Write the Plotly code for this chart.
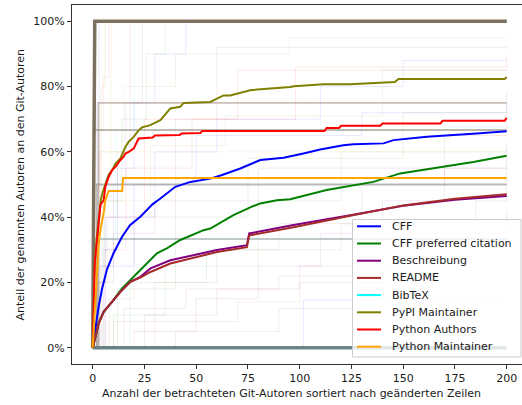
import plotly.graph_objects as go

# ---------------- data ----------------
series_names = ["CFF", "CFF preferred citation", "Beschreibung", "README", "BibTeX",
                "PyPI Maintainer", "Python Authors", "Python Maintainer"]
series_colors = ["#0000FF", "#008000", "#800080", "#A52A2A", "#00FFFF",
                 "#808000", "#FF0000", "#FFA500"]

cff_x = [0, 1, 2, 3, 4.5, 6.9, 10.1, 14.2, 18, 23, 29, 32.7, 39.9, 47.2, 56.8, 62.5, 71.3,
         81, 92.2, 101.8, 109.9, 121.1, 126, 140.5, 145.3, 161.4, 175.9, 185.5, 200]
cff_y = [0, 5, 9, 13, 18, 24, 29, 34, 37.5, 40.1, 44, 45.7, 49.3, 50.8, 51.8, 52.9, 54.9,
         57.5, 58.2, 59.5, 60.7, 62, 62.3, 62.6, 63.6, 64.6, 65.1, 65.6, 66.3]

pref_x = [0, 1.3, 2.9, 5.3, 9.4, 14.2, 18, 24.6, 31, 36, 42.3, 53.6, 56.8, 64.9, 68, 76.9,
          81, 89, 95.4, 113, 135.6, 148.5, 169.4, 183.9, 200]
pref_y = [0, 3.4, 7.5, 11, 14.1, 18.2, 20.5, 24.8, 28.9, 30.5, 33, 36, 36.5, 39.6, 40.6, 43.2,
          44.2, 45.2, 45.5, 48.3, 50.8, 53.4, 55.4, 56.9, 58.8]

besch_x = [0, 1.3, 2.9, 5.3, 9.4, 13.4, 18.2, 23, 27.9, 37.5, 60, 74.5, 75.6, 97, 124.4,
           150, 175, 200]
besch_y = [0, 3.4, 7.5, 11, 14.1, 17.1, 20.2, 21.7, 24.3, 26.8, 29.9, 31.4, 35, 37.6, 40.6,
           43.5, 45.3, 46.5]

readme_x = [0, 1.3, 2.9, 5.3, 9.4, 13.4, 18.2, 23, 27.9, 37.5, 60, 74.5, 75.6, 97, 124.4,
            150, 175, 200]
readme_y = [0, 3.4, 7.5, 11, 14.1, 17.1, 20.2, 21.5, 23.2, 25.8, 29.3, 30.8, 34.4, 36.9, 40.4,
            43.6, 45.6, 47]

bibtex_x = [0, 1, 200]
bibtex_y = [0, 100, 100]

pypi_x = [0, 1, 2, 3, 4, 5, 6.1, 7.7, 9.4, 11, 13.4, 15.8, 17.4, 19.8, 22.2, 23.8, 27.8,
          32.7, 37.5, 42.3, 43.9, 53.6, 56.8, 63.2, 66.4, 76.1, 81, 95.4, 97.2, 111.5, 124.4,
          140.4, 146, 147.7, 199, 200]
pypi_y = [0, 27, 34, 41, 45.5, 48, 50, 53, 54.4, 56.4, 58, 61.5, 63.1, 64.6, 66.6, 67.5, 68.2,
          69.7, 73.3, 73.8, 75, 75.3, 75.3, 77.3, 77.3, 78.9, 79.1, 79.9, 80.1, 80.7, 80.7,
          81.1, 81.4, 82.3, 82.3, 83]

pyauth_x = [0, 1, 2.1, 2.9, 3.7, 5.3, 6.1, 7.7, 9.4, 11, 13.4, 15, 15.8, 17.4, 19.8, 21.4,
            22.2, 29, 30, 42, 43, 52, 53, 112, 113, 119, 120, 139, 140, 168, 169, 199, 200]
pyauth_y = [0, 26, 33, 39.1, 43.7, 45.2, 49.3, 52.3, 54.4, 55.4, 57.5, 58.5, 59.5, 60, 61,
            63.1, 64.1, 64.4, 65, 65.2, 65.6, 65.8, 66.4, 66.4, 67.3, 67.3, 68, 68, 68.7,
            68.7, 69.5, 69.5, 70.4]

pymaint_x = [0, 1, 2, 3, 4, 5, 5.5, 6, 7.7, 14.2, 14.7, 200]
pymaint_y = [0, 12, 24, 33, 37, 40, 42, 45, 48, 48, 52, 52]

series_x = [cff_x, pref_x, besch_x, readme_x, bibtex_x, pypi_x, pyauth_x, pymaint_x]
series_y = [cff_y, pref_y, besch_y, readme_y, bibtex_y, pypi_y, pyauth_y, pymaint_y]

# individual projects (faint background lines), category index into series_names
bg_cat = [0, 5, 6, 3, 2, 1, 7, 4, 0, 3, 2, 3, 0, 1, 5, 6, 3, 2, 0, 7, 3, 1, 2, 0, 6, 5, 1, 3]
bg_x = [
    [0, 1, 2, 3, 200],
    [0, 2, 4, 6, 200],
    [0, 1, 3, 5, 8, 200],
    [0, 3, 7, 12, 18, 200],
    [0, 4, 10, 16, 24, 200],
    [0, 2, 6, 14, 26, 35, 200],
    [0, 1, 9, 200],
    [0, 3, 11, 20, 200],
    [0, 5, 12, 20, 30, 45, 200],
    [0, 8, 20, 40, 60, 200],
    [0, 20, 50, 80, 110, 140, 170, 200],
    [0, 10, 30, 60, 90, 130, 170, 200],
    [0, 1, 101.8, 200],
    [0, 10, 35, 80, 120, 200],
    [0, 3, 15, 40, 95, 200],
    [0, 2, 25, 70, 200],
    [0, 15, 45, 90, 150, 200],
    [0, 25, 60, 100, 160, 200],
    [0, 6, 30, 60, 110, 150, 200],
    [0, 4, 200],
    [0, 40, 90, 130, 200],
    [0, 18, 55, 120, 200],
    [0, 2, 10, 30, 80, 200],
    [0, 3, 20, 50, 130, 200],
    [0, 6, 16, 48, 98, 200],
    [0, 5, 28, 64, 140, 200],
    [0, 12, 40, 75, 150, 200],
    [0, 30, 70, 100, 140, 185, 200],
]
bg_y = [
    [0, 50, 75, 100, 100],
    [0, 40, 80, 100, 100],
    [0, 33, 66.7, 83, 100, 100],
    [0, 20, 40, 60, 100, 100],
    [0, 25, 50, 75, 100, 100],
    [0, 20, 45, 70, 90, 100, 100],
    [0, 50, 100, 100],
    [0, 33, 66.7, 100, 100],
    [0, 30, 55, 75, 90, 100, 100],
    [0, 15, 40, 70, 92, 92],
    [0, 5, 15, 25, 35, 45, 55, 63],
    [0, 8, 20, 30, 38, 50, 65, 75],
    [0, 0, 14.6, 14.6],
    [0, 10, 25, 45, 60, 60],
    [0, 60, 80, 90, 95, 95],
    [0, 40, 70, 85, 85],
    [0, 12, 18, 22, 27, 30],
    [0, 10, 18, 25, 35, 40],
    [0, 40, 60, 70, 80, 88, 88],
    [0, 60, 60],
    [0, 5, 12, 20, 20],
    [0, 20, 30, 38, 42],
    [0, 20, 35, 45, 55, 55],
    [0, 25, 50, 65, 72, 78],
    [0, 30, 55, 70, 86, 90],
    [0, 45, 62, 71, 85, 85],
    [0, 18, 40, 58, 72, 72],
    [0, 8, 14, 20, 28, 45, 55],
]

# projects that stay at a constant share (overlapping, hence darker)
level_y = [75, 66.7, 50, 33.3]
level_start = [2.8, 0.5, 2, 0.5]
full_x = [0, 1, 200]
full_y = [0, 100, 100]
zero_x = [0, 200]
zero_y = [0, 0]

x_ticks = [0, 25, 50, 75, 100, 125, 150, 175, 200]
y_ticks = [0, 20, 40, 60, 80, 100]
y_tick_text = ["0%", "20%", "40%", "60%", "80%", "100%"]
x_label = "Anzahl der betrachteten Git-Autoren sortiert nach geänderten Zeilen"
y_label = "Anteil der genannten Autoren an den Git-Autoren"

# ---------------- figure ----------------
FONT = "DejaVu Sans"
TXT = "#1a1a1a"


def rgba(hexcol, a):
    h = hexcol.lstrip("#")
    return "rgba(%d,%d,%d,%.3f)" % (int(h[0:2], 16), int(h[2:4], 16), int(h[4:6], 16), a)


fig = go.Figure()

for cat, xs, ys in zip(bg_cat, bg_x, bg_y):
    fig.add_trace(go.Scatter(x=xs, y=ys, mode="lines", line_shape="hv",
                             line=dict(color=rgba(series_colors[cat], 0.09), width=1),
                             showlegend=False, hoverinfo="skip"))

level_colors = ["rgba(150,125,115,0.5)", "rgba(135,130,115,0.55)",
                "rgba(130,130,130,0.55)", "rgba(130,145,150,0.5)"]
for lv, st, col in zip(level_y, level_start, level_colors):
    fig.add_trace(go.Scatter(x=[0, st, 200], y=[0, lv, lv], mode="lines", line_shape="hv",
                             line=dict(color=col, width=1.8),
                             showlegend=False, hoverinfo="skip"))

fig.add_trace(go.Scatter(x=zero_x, y=zero_y, mode="lines",
                         line=dict(color="rgba(100,128,128,0.95)", width=3.5),
                         showlegend=False, hoverinfo="skip"))

# main mean lines (BibTeX first so it sits under the 100 % band)
order = [4, 0, 1, 2, 3, 5, 6, 7]
for i in order:
    fig.add_trace(go.Scatter(x=series_x[i], y=series_y[i], mode="lines",
                             name=series_names[i], showlegend=False,
                             line=dict(color=series_colors[i], width=2)))
    if i == 4:
        fig.add_trace(go.Scatter(x=full_x, y=full_y, mode="lines",
                                 line=dict(color="rgba(125,105,85,0.95)", width=3.5),
                                 showlegend=False, hoverinfo="skip"))

W, H = 522, 405
ML, MR, MT, MB = 72, 0, 5, 41
pw, ph = W - ML - MR, H - MT - MB


def px_x(p):
    return (p - ML) / pw


def px_y(p):
    return (MT + ph - p) / ph


# legend (matplotlib-style box with fixed row spacing)
shapes = [dict(type="rect", xref="paper", yref="paper",
               x0=px_x(352.5), x1=px_x(521), y0=px_y(357), y1=px_y(219.5),
               fillcolor="rgba(255,255,255,0.8)", line=dict(color="#cccccc", width=1),
               layer="above")]
annotations = []
row0, row_step = 226.3, 17.2
for k, (nm, col) in enumerate(zip(series_names, series_colors)):
    yy = px_y(row0 + k * row_step)
    shapes.append(dict(type="line", xref="paper", yref="paper",
                       x0=px_x(357), x1=px_x(381), y0=yy, y1=yy,
                       line=dict(color=col, width=2), layer="above"))
    annotations.append(dict(text=nm, xref="paper", yref="paper", x=px_x(389.5), y=yy,
                            xanchor="left", yanchor="middle", showarrow=False,
                            font=dict(family=FONT, size=11, color=TXT)))

annotations += [
    dict(text=x_label, xref="paper", yref="paper", x=px_x(291.5), y=px_y(393.5),
         xanchor="center", yanchor="middle", showarrow=False,
         font=dict(family=FONT, size=11, color=TXT)),
    dict(text=y_label, xref="paper", yref="paper", x=px_x(20), y=px_y(184.5),
         xanchor="center", yanchor="middle", textangle=-90, showarrow=False,
         font=dict(family=FONT, size=11, color=TXT)),
]

fig.update_layout(
    width=W, height=H,
    margin=dict(l=ML, r=MR, t=MT, b=MB, pad=0, autoexpand=False),
    paper_bgcolor="white", plot_bgcolor="white",
    font=dict(family=FONT, size=11, color=TXT),
    showlegend=False,
    xaxis=dict(range=[-10, 207.4], tickvals=x_ticks, ticks="outside", ticklen=4,
               tickcolor="#333", tickwidth=1, showline=True, linecolor="#333", linewidth=1,
               mirror=True, showgrid=False, zeroline=False, automargin=False,
               tickfont=dict(family=FONT, size=11, color=TXT)),
    yaxis=dict(range=[-5, 105], tickvals=y_ticks, ticktext=y_tick_text, ticks="outside",
               ticklen=4, tickcolor="#333", tickwidth=1, showline=True, linecolor="#333",
               linewidth=1, showgrid=False, zeroline=False, automargin=False,
               tickfont=dict(family=FONT, size=11, color=TXT)),
    shapes=shapes,
    annotations=annotations,
)

fig.write_html("out.html", config={"displayModeBar": False},
               post_script="document.body.style.margin='0';document.body.style.overflow='hidden';")
